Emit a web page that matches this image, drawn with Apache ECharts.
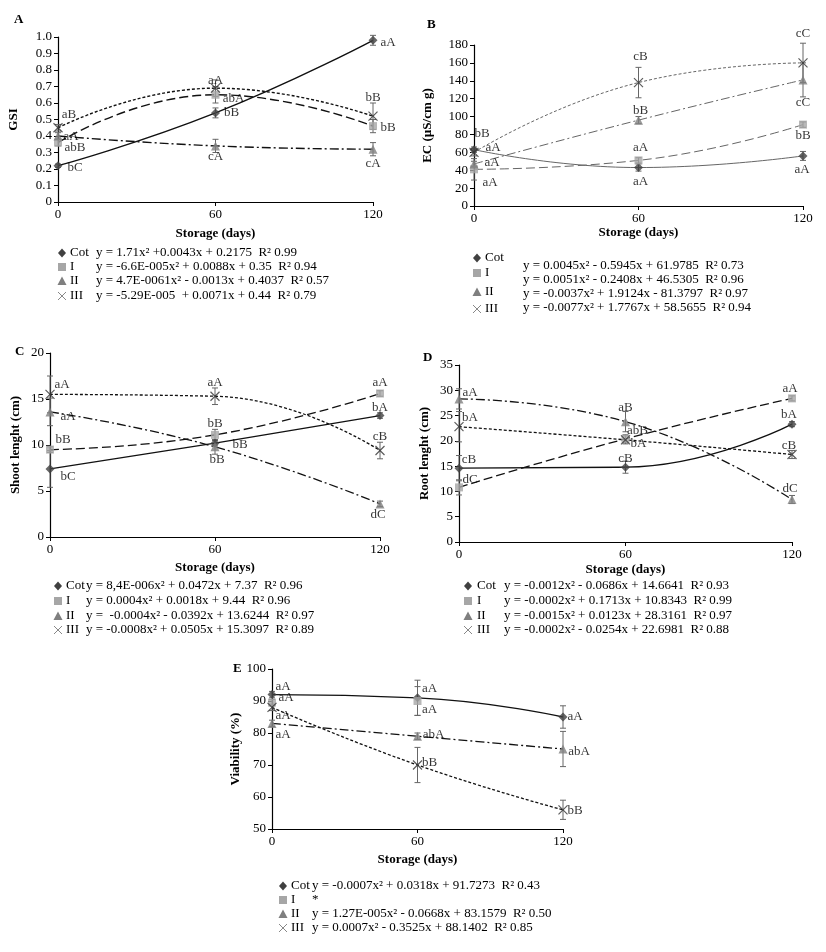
<!DOCTYPE html>
<html><head><meta charset="utf-8">
<script src="https://cdn.jsdelivr.net/npm/echarts@6/dist/echarts.min.js"></script>
<style>html,body{margin:0;padding:0;background:#fff}#c{width:826px;height:952px}</style>
</head><body><div id="c"></div>
<script>
// ---------- DATA ----------
const days = [0, 60, 120];
const groups = ['Cot', 'I', 'II', 'III'];

// A: GSI
const gsiCot = [0.22, 0.54, 0.98], gsiI = [0.36, 0.65, 0.46], gsiII = [0.40, 0.34, 0.32], gsiIII = [0.45, 0.69, 0.52];
const gsiErrCot = [0.01, 0.03, 0.03], gsiErrI = [0.02, 0.05, 0.04], gsiErrII = [0.02, 0.04, 0.04], gsiErrIII = [0.02, 0.05, 0.08];
const gsiLetCot = ['bC', 'bB', 'aA'], gsiLetI = ['abB', 'abA', 'bB'], gsiLetII = ['aA', 'cA', 'cA'], gsiLetIII = ['aB', 'aA', 'bB'];
const gsiEq = ['y = 1.71x² +0.0043x + 0.2175  R² 0.99', 'y = -6.6E-005x² + 0.0088x + 0.35  R² 0.94',
  'y = 4.7E-0061x² - 0.0013x + 0.4037  R² 0.57', 'y = -5.29E-005  + 0.0071x + 0.44  R² 0.79'];

// B: EC
const ecCot = [63, 43, 56], ecI = [41, 51, 91], ecII = [47, 96, 141], ecIII = [60, 138, 160];
const ecErrCot = [3, 4, 5], ecErrI = [12, 3, 3], ecErrII = [3, 4, 19], ecErrIII = [4, 17, 22];
const ecLetCot = ['aA', 'aA', 'aA'], ecLetI = ['aA', 'aA', 'bB'], ecLetII = ['aA', 'bB', 'cC'], ecLetIII = ['bB', 'cB', 'cC'];
const ecEq = ['y = 0.0045x² - 0.5945x + 61.9785  R² 0.73', 'y = 0.0051x² - 0.2408x + 46.5305  R² 0.96',
  'y = -0.0037x² + 1.9124x - 81.3797  R² 0.97', 'y = -0.0077x² + 1.7767x + 58.5655  R² 0.94'];

// C: Shoot length
const shCot = [7.4, 10.2, 13.2], shI = [9.5, 11.1, 15.6], shII = [13.6, 9.8, 3.6], shIII = [15.5, 15.3, 9.4];
const shErrCot = [2.0, 0.3, 0.3], shErrI = [0.3, 0.6, 0.3], shErrII = [1.5, 0.8, 0.3], shErrIII = [2.0, 0.9, 0.9];
const shLetCot = ['bC', 'bB', 'bA'], shLetI = ['bB', 'bB', 'aA'], shLetII = ['aA', 'bB', 'dC'], shLetIII = ['aA', 'aA', 'cB'];
const shEq = ['y = 8,4E-006x² + 0.0472x + 7.37  R² 0.96', 'y = 0.0004x² + 0.0018x + 9.44  R² 0.96',
  'y =  -0.0004x² - 0.0392x + 13.6244  R² 0.97', 'y = -0.0008x² + 0.0505x + 15.3097  R² 0.89'];

// D: Root length
const rtCot = [14.6, 14.8, 23.3], rtI = [10.8, 20.4, 28.4], rtII = [28.3, 23.8, 8.4], rtIII = [22.8, 20.2, 17.3];
const rtErrCot = [2.5, 1.2, 0.5], rtErrI = [1.5, 0.8, 0.5], rtErrII = [2.0, 2.0, 0.8], rtErrIII = [3.0, 0.8, 0.8];
const rtLetCot = ['cB', 'cB', 'bA'], rtLetI = ['dC', 'abB', 'aA'], rtLetII = ['aA', 'aB', 'dC'], rtLetIII = ['bA', 'bA', 'cB'];
const rtEq = ['y = -0.0012x² - 0.0686x + 14.6641  R² 0.93', 'y = -0.0002x² + 0.1713x + 10.8343  R² 0.99',
  'y = -0.0015x² + 0.0123x + 28.3161  R² 0.97', 'y = -0.0002x² - 0.0254x + 22.6981  R² 0.88'];

// E: Viability
const viCot = [92, 91, 85], viI = [89.5, 90, null], viII = [83, 79, 75], viIII = [88, 70, 56];
const viErrCot = [1, 5.5, 3.5], viErrI = [1, 4.5, null], viErrII = [1, 1, 5.5], viErrIII = [1, 5.5, 3];
const viLetCot = ['aA', 'aA', 'aA'], viLetI = ['aA', 'aA', null], viLetII = ['aA', 'abA', 'abA'], viLetIII = ['aA', 'bB', 'bB'];
const viEq = ['y = -0.0007x² + 0.0318x + 91.7273  R² 0.43', '*',
  'y = 1.27E-005x² - 0.0668x + 83.1579  R² 0.50', 'y = 0.0007x² - 0.3525x + 88.1402  R² 0.85'];
const viTrend = [true, false, true, true];

// ---------- LAYOUT / STYLE ----------
const FONT = '"Liberation Serif", "Times New Roman", serif';
const panels = [
  { tag: 'A', name: 'GSI', grid: { left: 58, top: 37, width: 315, height: 165 }, min: 0, max: 1, interval: 0.1, nameGap: 38, xGap: 25,
    vals: [gsiCot, gsiI, gsiII, gsiIII], errs: [gsiErrCot, gsiErrI, gsiErrII, gsiErrIII], lets: [gsiLetCot, gsiLetI, gsiLetII, gsiLetIII],
    offs: [[[17, 2], [16, 0], [15, 2]], [[17, 5], [18, 4], [15, 1]], [[13, 1], [0, 11], [0, 14]], [[11, -13], [0, -8], [0, -19]]],
    fmt: v => v === 0 ? '0' : v.toFixed(1), trend: [true, true, true, true], lineColor: '#111', lw: 1.4 },
  { tag: 'B', name: 'EC (µS/cm g)', grid: { left: 474, top: 45, width: 329, height: 161 }, min: 0, max: 180, interval: 20, nameGap: 40, xGap: 19,
    vals: [ecCot, ecI, ecII, ecIII], errs: [ecErrCot, ecErrI, ecErrII, ecErrIII], lets: [ecLetCot, ecLetI, ecLetII, ecLetIII],
    offs: [[[19, -2], [2, 14], [-1, 14]], [[16, 13], [2, -13], [0, 11]], [[18, -1], [2, -10], [0, 23]], [[8, -19], [2, -26], [0, -29]]],
    fmt: v => String(v), trend: [true, true, true, true], lineColor: '#666', lw: 1 },
  { tag: 'C', name: 'Shoot lenght (cm)', grid: { left: 50, top: 353, width: 330, height: 184 }, min: 0, max: 20, interval: 5, nameGap: 28, xGap: 24,
    vals: [shCot, shI, shII, shIII], errs: [shErrCot, shErrI, shErrII, shErrIII], lets: [shLetCot, shLetI, shLetII, shLetIII],
    offs: [[[18, 8], [25, 1], [0, -8]], [[13, -10], [0, -11], [0, -11]], [[18, 5], [2, 13], [-2, 11]], [[12, -10], [0, -14], [0, -14]]],
    fmt: v => String(v), trend: [true, true, true, true], lineColor: '#111', lw: 1.3 },
  { tag: 'D', name: 'Root lenght (cm)', grid: { left: 459, top: 365, width: 333, height: 177 }, min: 0, max: 35, interval: 5, nameGap: 28, xGap: 21,
    vals: [rtCot, rtI, rtII, rtIII], errs: [rtErrCot, rtErrI, rtErrII, rtErrIII], lets: [rtLetCot, rtLetI, rtLetII, rtLetIII],
    offs: [[[10, -9], [0, -9], [-3, -10]], [[11, -8], [12, -8], [-2, -10]], [[11, -6], [0, -14], [-2, -11]], [[11, -9], [13, 4], [-3, -9]]],
    fmt: v => String(v), trend: [true, true, true, true], lineColor: '#111', lw: 1.3 },
  { tag: 'E', name: 'Viability (%)', grid: { left: 272, top: 669, width: 291, height: 160 }, min: 50, max: 100, interval: 10, nameGap: 28, xGap: 24,
    vals: [viCot, viI, viII, viIII], errs: [viErrCot, viErrI, viErrII, viErrIII], lets: [viLetCot, viLetI, viLetII, viLetIII],
    offs: [[[11, -8], [12, -9], [12, 0]], [[14, -5], [12, 9], [0, 0]], [[11, 11], [16, -2], [16, 3]], [[11, 8], [12, -2], [12, 1]]],
    fmt: v => String(v), trend: viTrend, lineColor: '#111', lw: 1.3 }
];
const tagPos = [[14, 20], [427, 25], [15, 352], [423, 358], [233, 669]];
const legends = [
  { mx: 62, nx: 70, rows: [253, 267, 281, 296], ex: 96, erows: [253, 267, 281, 296], eqs: gsiEq },
  { mx: 477, nx: 485, rows: [258, 273, 292, 309], ex: 523, erows: [266, 280, 294, 308], eqs: ecEq },
  { mx: 58, nx: 66, rows: [586, 601, 616, 630], ex: 86, erows: [586, 601, 616, 630], eqs: shEq },
  { mx: 468, nx: 477, rows: [586, 601, 616, 630], ex: 504, erows: [586, 601, 616, 630], eqs: rtEq },
  { mx: 283, nx: 291, rows: [886, 900, 914, 928], ex: 312, erows: [886, 900, 914, 928], eqs: viEq }
];
const dashes = [null, [9, 4], [9, 3, 2, 3], [3, 2]];
const symbols = ['diamond', 'rect', 'triangle', 'path://M0,0L10,10M10,0L0,10'];
const symSize = [9, 8, 9, 9];
const symColor = ['#404040', '#a6a6a6', '#7f7f7f', '#333'];

// ---------- BUILD ----------
const grid = [], xAxis = [], yAxis = [], series = [], graphic = [];
panels.forEach((p, pi) => {
  grid.push(p.grid);
  xAxis.push({ type: 'value', gridIndex: pi, min: 0, max: 120, interval: 60, name: 'Storage (days)', nameLocation: 'middle', nameGap: p.xGap,
    nameTextStyle: { fontFamily: FONT, fontWeight: 'bold', fontSize: 13, color: '#000' },
    axisLine: { lineStyle: { color: '#000', width: 1.2 } }, axisTick: { show: true, length: 4, lineStyle: { color: '#000' } },
    axisLabel: { fontFamily: FONT, fontSize: 13, color: '#000', margin: 6 }, splitLine: { show: false } });
  yAxis.push({ type: 'value', gridIndex: pi, min: p.min, max: p.max, interval: p.interval, name: p.name, nameLocation: 'middle', nameGap: p.nameGap,
    nameTextStyle: { fontFamily: FONT, fontWeight: 'bold', fontSize: 13, color: '#000' },
    axisLine: { show: true, lineStyle: { color: '#000', width: 1.2 } }, axisTick: { show: true, length: 4, lineStyle: { color: '#000' } },
    axisLabel: { fontFamily: FONT, fontSize: 13, color: '#000', margin: 6, formatter: p.fmt }, splitLine: { show: false } });
  p.vals.forEach((vals, si) => {
    const pts = days.map((d, i) => vals[i] == null ? null : [d, vals[i]]).filter(v => v);
    if (p.trend[si]) {
      series.push({ type: 'line', xAxisIndex: pi, yAxisIndex: pi, data: pts, smooth: 0.5, showSymbol: false, silent: true, z: 2,
        lineStyle: { color: p.lineColor, width: p.lw, type: dashes[si] || 'solid' } });
    }
    const errData = days.map((d, i) => vals[i] == null ? null : [d, vals[i], p.errs[si][i]]).filter(v => v);
    series.push({ type: 'custom', xAxisIndex: pi, yAxisIndex: pi, data: errData, encode: { x: 0, y: 1 }, z: 3, silent: true,
      renderItem: (params, api) => {
        const x = api.value(0), y = api.value(1), e = api.value(2);
        const t = api.coord([x, y + e]), b = api.coord([x, y - e]);
        const st = { stroke: '#666', lineWidth: 1 };
        return { type: 'group', children: [
          { type: 'line', shape: { x1: t[0], y1: t[1], x2: b[0], y2: b[1] }, style: st },
          { type: 'line', shape: { x1: t[0] - 3, y1: t[1], x2: t[0] + 3, y2: t[1] }, style: st },
          { type: 'line', shape: { x1: b[0] - 3, y1: b[1], x2: b[0] + 3, y2: b[1] }, style: st }] };
      } });
    const sdata = [];
    days.forEach((d, i) => {
      if (vals[i] == null) return;
      sdata.push({ value: [d, vals[i]], label: { show: !!p.lets[si][i], formatter: p.lets[si][i] || '', position: 'inside',
        offset: p.offs[si][i], color: '#000', textBorderWidth: 0, fontFamily: FONT, fontSize: 13 } });
    });
    series.push({ type: 'scatter', xAxisIndex: pi, yAxisIndex: pi, data: sdata, symbol: symbols[si], symbolSize: symSize[si], z: 4,
      itemStyle: si === 3 ? { color: 'rgba(0,0,0,0)', borderColor: '#333', borderWidth: 1.2 } : { color: symColor[si] },
      label: { color: '#000', textBorderWidth: 0, fontFamily: FONT, fontSize: 13, align: 'center', verticalAlign: 'middle' } });
  });
  graphic.push({ type: 'text', x: tagPos[pi][0], y: tagPos[pi][1], style: { text: p.tag, font: 'bold 13px ' + FONT, fill: '#000', verticalAlign: 'middle' } });
  const L = legends[pi];
  groups.forEach((g, gi) => {
    const x = L.mx, y = L.rows[gi];
    if (gi === 0) graphic.push({ type: 'polygon', shape: { points: [[x, y - 4.5], [x + 4, y], [x, y + 4.5], [x - 4, y]] }, style: { fill: '#404040' } });
    if (gi === 1) graphic.push({ type: 'rect', shape: { x: x - 4, y: y - 4, width: 8, height: 8 }, style: { fill: '#a6a6a6' } });
    if (gi === 2) graphic.push({ type: 'polygon', shape: { points: [[x, y - 4.5], [x + 4.5, y + 4], [x - 4.5, y + 4]] }, style: { fill: '#7f7f7f' } });
    if (gi === 3) graphic.push({ type: 'group', children: [
      { type: 'line', shape: { x1: x - 4, y1: y - 4, x2: x + 4, y2: y + 4 }, style: { stroke: '#888', lineWidth: 1 } },
      { type: 'line', shape: { x1: x + 4, y1: y - 4, x2: x - 4, y2: y + 4 }, style: { stroke: '#888', lineWidth: 1 } }] });
    graphic.push({ type: 'text', x: L.nx, y: y, style: { text: g, font: '13px ' + FONT, fill: '#000', verticalAlign: 'middle' } });
    graphic.push({ type: 'text', x: L.ex, y: L.erows[gi], style: { text: L.eqs[gi], font: '13px ' + FONT, fill: '#000', verticalAlign: 'middle' } });
  });
});

const chart = echarts.init(document.getElementById('c'), null, { renderer: 'canvas' });
chart.setOption({ animation: false, backgroundColor: '#fff', grid, xAxis, yAxis, series, graphic });
</script>
</body></html>
